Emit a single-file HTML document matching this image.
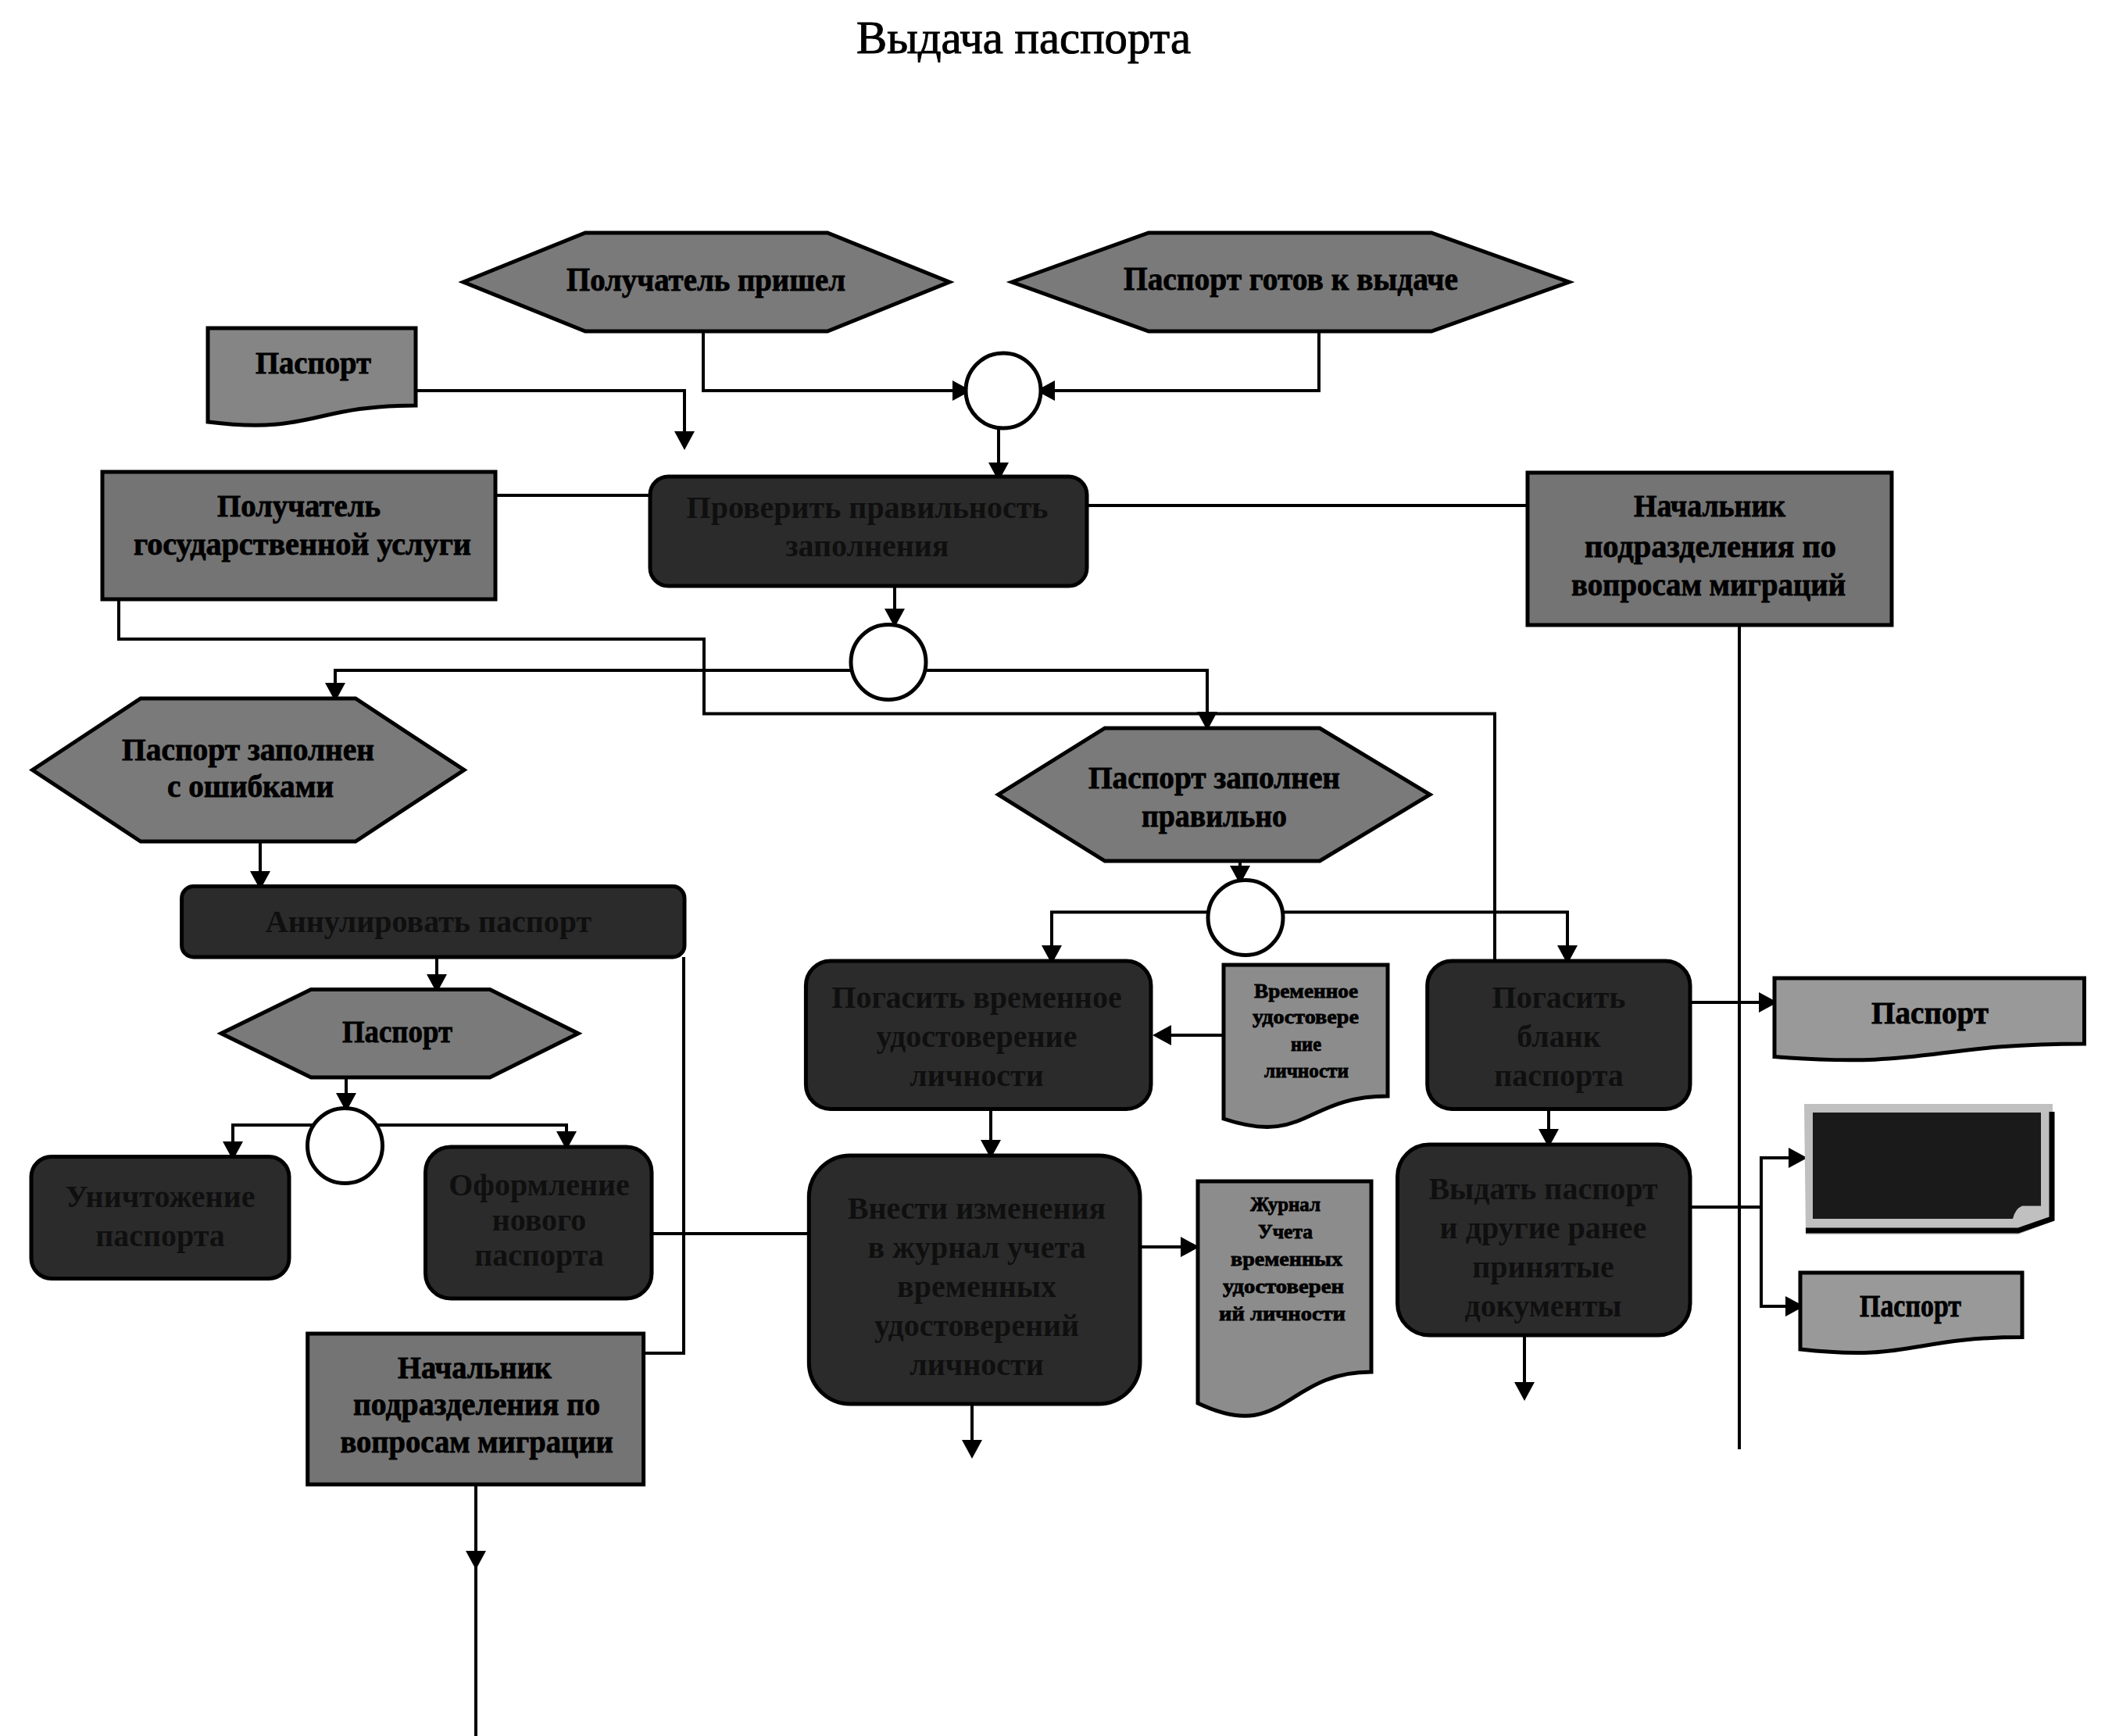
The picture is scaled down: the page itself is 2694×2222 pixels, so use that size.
<!DOCTYPE html>
<html><head><meta charset="utf-8"><style>
html,body{margin:0;padding:0;background:#fff;}
svg{display:block;}
text{font-family:"Liberation Serif",serif;}
</style></head><body>
<svg width="2694" height="2222" viewBox="0 0 2694 2222">
<rect width="2694" height="2222" fill="#fff"/>
<text x="1096" y="68" font-size="60" font-family="Liberation Serif" textLength="428" lengthAdjust="spacingAndGlyphs" fill="#000" stroke="#000" stroke-width="1">Выдача паспорта</text>
<polyline points="900,425 900,500 1234,500" fill="none" stroke="#000" stroke-width="4" stroke-linejoin="miter"/>
<polygon points="1243,500 1219,487 1219,513" fill="#000"/>
<polyline points="1688,424 1688,500 1334,500" fill="none" stroke="#000" stroke-width="4" stroke-linejoin="miter"/>
<polygon points="1326,500 1350,487 1350,513" fill="#000"/>
<polyline points="532,500 876,500 876,560" fill="none" stroke="#000" stroke-width="4" stroke-linejoin="miter"/>
<polygon points="876,576 863,552 889,552" fill="#000"/>
<polyline points="1278,547 1278,600" fill="none" stroke="#000" stroke-width="4" stroke-linejoin="miter"/>
<polygon points="1278,616 1265,592 1291,592" fill="#000"/>
<polyline points="634,634 832,634" fill="none" stroke="#000" stroke-width="4" stroke-linejoin="miter"/>
<polyline points="1391,647 1955,647" fill="none" stroke="#000" stroke-width="4" stroke-linejoin="miter"/>
<polyline points="1145,750 1145,785" fill="none" stroke="#000" stroke-width="4" stroke-linejoin="miter"/>
<polygon points="1145,803 1132,779 1158,779" fill="#000"/>
<polyline points="152,767 152,818 901,818 901,913.5 1913,913.5 1913,1230" fill="none" stroke="#000" stroke-width="4" stroke-linejoin="miter"/>
<polyline points="1088,858 429,858 429,880" fill="none" stroke="#000" stroke-width="4" stroke-linejoin="miter"/>
<polygon points="429,898 416,874 442,874" fill="#000"/>
<polyline points="1186,858 1545,858 1545,915" fill="none" stroke="#000" stroke-width="4" stroke-linejoin="miter"/>
<polygon points="1545,935 1532,911 1558,911" fill="#000"/>
<polyline points="1587,1102 1587,1115" fill="none" stroke="#000" stroke-width="4" stroke-linejoin="miter"/>
<polygon points="1587,1132 1574,1108 1600,1108" fill="#000"/>
<polyline points="1545,1167.5 1346,1167.5 1346,1215" fill="none" stroke="#000" stroke-width="4" stroke-linejoin="miter"/>
<polygon points="1346,1234 1333,1210 1359,1210" fill="#000"/>
<polyline points="1643,1167.5 2006,1167.5 2006,1215" fill="none" stroke="#000" stroke-width="4" stroke-linejoin="miter"/>
<polygon points="2006,1234 1993,1210 2019,1210" fill="#000"/>
<polyline points="2226,800 2226,1855" fill="none" stroke="#000" stroke-width="4" stroke-linejoin="miter"/>
<polyline points="333,1076 333,1120" fill="none" stroke="#000" stroke-width="4" stroke-linejoin="miter"/>
<polygon points="333,1139 320,1115 346,1115" fill="#000"/>
<polyline points="559,1225 559,1252" fill="none" stroke="#000" stroke-width="4" stroke-linejoin="miter"/>
<polygon points="559,1271 546,1247 572,1247" fill="#000"/>
<polyline points="443,1379 443,1405" fill="none" stroke="#000" stroke-width="4" stroke-linejoin="miter"/>
<polygon points="443,1423 430,1399 456,1399" fill="#000"/>
<polyline points="402,1440 298,1440 298,1466" fill="none" stroke="#000" stroke-width="4" stroke-linejoin="miter"/>
<polygon points="298,1485 285,1461 311,1461" fill="#000"/>
<polyline points="481,1440 725,1440 725,1454" fill="none" stroke="#000" stroke-width="4" stroke-linejoin="miter"/>
<polygon points="725,1472 712,1448 738,1448" fill="#000"/>
<polyline points="875,1225 875,1732 823,1732" fill="none" stroke="#000" stroke-width="4" stroke-linejoin="miter"/>
<polyline points="833,1579 1035,1579" fill="none" stroke="#000" stroke-width="4" stroke-linejoin="miter"/>
<polyline points="609,1900 609,2222" fill="none" stroke="#000" stroke-width="4" stroke-linejoin="miter"/>
<polygon points="609,2009 596,1985 622,1985" fill="#000"/>
<polyline points="1566,1325 1490,1325" fill="none" stroke="#000" stroke-width="4" stroke-linejoin="miter"/>
<polygon points="1475,1325 1499,1312 1499,1338" fill="#000"/>
<polyline points="1268,1419 1268,1465" fill="none" stroke="#000" stroke-width="4" stroke-linejoin="miter"/>
<polygon points="1268,1483 1255,1459 1281,1459" fill="#000"/>
<polyline points="1459,1596 1515,1596" fill="none" stroke="#000" stroke-width="4" stroke-linejoin="miter"/>
<polygon points="1535,1596 1511,1583 1511,1609" fill="#000"/>
<polyline points="1244,1797 1244,1850" fill="none" stroke="#000" stroke-width="4" stroke-linejoin="miter"/>
<polygon points="1244,1867 1231,1843 1257,1843" fill="#000"/>
<polyline points="1982,1419 1982,1450" fill="none" stroke="#000" stroke-width="4" stroke-linejoin="miter"/>
<polygon points="1982,1469 1969,1445 1995,1445" fill="#000"/>
<polyline points="1951,1709 1951,1780" fill="none" stroke="#000" stroke-width="4" stroke-linejoin="miter"/>
<polygon points="1951,1793 1938,1769 1964,1769" fill="#000"/>
<polyline points="2163,1283 2255,1283" fill="none" stroke="#000" stroke-width="4" stroke-linejoin="miter"/>
<polygon points="2275,1283 2251,1270 2251,1296" fill="#000"/>
<polyline points="2163,1545 2254,1545" fill="none" stroke="#000" stroke-width="4" stroke-linejoin="miter"/>
<polyline points="2310,1482 2254,1482 2254,1672 2290,1672" fill="none" stroke="#000" stroke-width="4" stroke-linejoin="miter"/>
<polygon points="2313,1482 2289,1469 2289,1495" fill="#000"/>
<polygon points="2309,1672 2285,1659 2285,1685" fill="#000"/>
<polygon points="593,361.0 749,298 1059,298 1215,361.0 1059,424 749,424" fill="#7a7a7a" stroke="#000" stroke-width="5" stroke-linejoin="miter"/>
<text x="903.5" y="372" text-anchor="middle" font-size="42" font-weight="bold" fill="#000" stroke="#000" stroke-width="0.8" textLength="357" lengthAdjust="spacingAndGlyphs">Получатель пришел</text>
<polygon points="1295,361.0 1470,298 1832,298 2008,361.0 1832,424 1470,424" fill="#7a7a7a" stroke="#000" stroke-width="5" stroke-linejoin="miter"/>
<text x="1652.0" y="371" text-anchor="middle" font-size="42" font-weight="bold" fill="#000" stroke="#000" stroke-width="0.8" textLength="428" lengthAdjust="spacingAndGlyphs">Паспорт готов к выдаче</text>
<path d="M266,420 H532 V519 C399.0,519 399.0,556.7 266,540 Z" fill="#858585" stroke="#000" stroke-width="5" stroke-linejoin="miter"/>
<text x="401.0" y="478" text-anchor="middle" font-size="40" font-weight="bold" fill="#000" stroke="#000" stroke-width="0.8" textLength="148" lengthAdjust="spacingAndGlyphs">Паспорт</text>
<circle cx="1284" cy="500" r="48" fill="#fff" stroke="#000" stroke-width="5"/>
<rect x="131" y="604" width="503" height="163" fill="#747474" stroke="#000" stroke-width="5"/>
<text x="382.5" y="661" text-anchor="middle" font-size="40" font-weight="bold" fill="#000" stroke="#000" stroke-width="0.8" textLength="209" lengthAdjust="spacingAndGlyphs">Получатель</text>
<text x="387.0" y="710" text-anchor="middle" font-size="40" font-weight="bold" fill="#000" stroke="#000" stroke-width="0.8" textLength="432" lengthAdjust="spacingAndGlyphs">государственной услуги</text>
<rect x="832" y="610" width="559" height="140" rx="23.333333333333332" ry="23.333333333333332" fill="#2b2b2b" stroke="#000" stroke-width="5"/>
<text x="1110.0" y="663" text-anchor="middle" font-size="40" font-weight="bold" fill="#0f0f0f">Проверить правильность</text>
<text x="1110.0" y="712" text-anchor="middle" font-size="40" font-weight="bold" fill="#0f0f0f">заполнения</text>
<rect x="1955" y="605" width="466" height="195" fill="#747474" stroke="#000" stroke-width="5"/>
<text x="2188.0" y="661" text-anchor="middle" font-size="40" font-weight="bold" fill="#000" stroke="#000" stroke-width="0.8" textLength="194" lengthAdjust="spacingAndGlyphs">Начальник</text>
<text x="2189.0" y="713" text-anchor="middle" font-size="40" font-weight="bold" fill="#000" stroke="#000" stroke-width="0.8" textLength="322" lengthAdjust="spacingAndGlyphs">подразделения по</text>
<text x="2186.5" y="762" text-anchor="middle" font-size="40" font-weight="bold" fill="#000" stroke="#000" stroke-width="0.8" textLength="351" lengthAdjust="spacingAndGlyphs">вопросам миграций</text>
<circle cx="1137" cy="847.5" r="48" fill="#fff" stroke="#000" stroke-width="5"/>
<polygon points="41.5,985.5 180,894 455,894 594,985.5 455,1077 180,1077" fill="#7a7a7a" stroke="#000" stroke-width="5" stroke-linejoin="miter"/>
<text x="317.5" y="973" text-anchor="middle" font-size="40" font-weight="bold" fill="#000" stroke="#000" stroke-width="0.8" textLength="323" lengthAdjust="spacingAndGlyphs">Паспорт заполнен</text>
<text x="320.5" y="1020" text-anchor="middle" font-size="40" font-weight="bold" fill="#000" stroke="#000" stroke-width="0.8" textLength="213" lengthAdjust="spacingAndGlyphs">с ошибками</text>
<polygon points="1277.5,1017.0 1414,932 1689,932 1830,1017.0 1689,1102 1414,1102" fill="#7a7a7a" stroke="#000" stroke-width="5" stroke-linejoin="miter"/>
<text x="1554.0" y="1009" text-anchor="middle" font-size="40" font-weight="bold" fill="#000" stroke="#000" stroke-width="0.8" textLength="322" lengthAdjust="spacingAndGlyphs">Паспорт заполнен</text>
<text x="1554.0" y="1058" text-anchor="middle" font-size="40" font-weight="bold" fill="#000" stroke="#000" stroke-width="0.8" textLength="186" lengthAdjust="spacingAndGlyphs">правильно</text>
<circle cx="1594" cy="1174.5" r="48" fill="#fff" stroke="#000" stroke-width="5"/>
<rect x="232.6" y="1134.5" width="643.4" height="90.5" rx="15.083333333333334" ry="15.083333333333334" fill="#2b2b2b" stroke="#000" stroke-width="5"/>
<text x="548.5" y="1193" text-anchor="middle" font-size="40" font-weight="bold" fill="#0f0f0f">Аннулировать паспорт</text>
<polygon points="283,1322.75 398,1266.5 627,1266.5 740,1322.75 627,1379 398,1379" fill="#7a7a7a" stroke="#000" stroke-width="5" stroke-linejoin="miter"/>
<text x="508.5" y="1334" text-anchor="middle" font-size="40" font-weight="bold" fill="#000" stroke="#000" stroke-width="0.8" textLength="141" lengthAdjust="spacingAndGlyphs">Паспорт</text>
<circle cx="441.5" cy="1466.5" r="48" fill="#fff" stroke="#000" stroke-width="5"/>
<rect x="40" y="1480.5" width="330" height="156.0" rx="26.0" ry="26.0" fill="#2b2b2b" stroke="#000" stroke-width="5"/>
<text x="205.0" y="1545" text-anchor="middle" font-size="40" font-weight="bold" fill="#0f0f0f">Уничтожение</text>
<text x="205.0" y="1595" text-anchor="middle" font-size="40" font-weight="bold" fill="#0f0f0f">паспорта</text>
<rect x="544.5" y="1468" width="289.5" height="194" rx="32.333333333333336" ry="32.333333333333336" fill="#2b2b2b" stroke="#000" stroke-width="5"/>
<text x="690.0" y="1530" text-anchor="middle" font-size="40" font-weight="bold" fill="#0f0f0f">Оформление</text>
<text x="690.0" y="1575" text-anchor="middle" font-size="40" font-weight="bold" fill="#0f0f0f">нового</text>
<text x="690.0" y="1620" text-anchor="middle" font-size="40" font-weight="bold" fill="#0f0f0f">паспорта</text>
<rect x="393.7" y="1707" width="429.90000000000003" height="193" fill="#747474" stroke="#000" stroke-width="5"/>
<text x="607.5" y="1764" text-anchor="middle" font-size="40" font-weight="bold" fill="#000" stroke="#000" stroke-width="0.8" textLength="197" lengthAdjust="spacingAndGlyphs">Начальник</text>
<text x="610.0" y="1811" text-anchor="middle" font-size="40" font-weight="bold" fill="#000" stroke="#000" stroke-width="0.8" textLength="316" lengthAdjust="spacingAndGlyphs">подразделения по</text>
<text x="610.1" y="1859" text-anchor="middle" font-size="40" font-weight="bold" fill="#000" stroke="#000" stroke-width="0.8" textLength="349.20000000000005" lengthAdjust="spacingAndGlyphs">вопросам миграции</text>
<rect x="1031.4" y="1230" width="441.5999999999999" height="189.5" rx="31.583333333333332" ry="31.583333333333332" fill="#2b2b2b" stroke="#000" stroke-width="5"/>
<text x="1250.0" y="1290" text-anchor="middle" font-size="40" font-weight="bold" fill="#0f0f0f">Погасить временное</text>
<text x="1250.0" y="1340" text-anchor="middle" font-size="40" font-weight="bold" fill="#0f0f0f">удостоверение</text>
<text x="1250.0" y="1390" text-anchor="middle" font-size="40" font-weight="bold" fill="#0f0f0f">личности</text>
<path d="M1566,1235 H1776 V1403 C1671.0,1403 1671.0,1467.0 1566,1432 Z" fill="#8c8c8c" stroke="#000" stroke-width="5" stroke-linejoin="miter"/>
<text x="1671.5" y="1277" text-anchor="middle" font-size="26" font-weight="bold" fill="#000" stroke="#000" stroke-width="0.8" textLength="133" lengthAdjust="spacingAndGlyphs">Временное</text>
<text x="1671.0" y="1310" text-anchor="middle" font-size="26" font-weight="bold" fill="#000" stroke="#000" stroke-width="0.8" textLength="136" lengthAdjust="spacingAndGlyphs">удостовере</text>
<text x="1671.5" y="1345" text-anchor="middle" font-size="26" font-weight="bold" fill="#000" stroke="#000" stroke-width="0.8" textLength="39" lengthAdjust="spacingAndGlyphs">ние</text>
<text x="1672.0" y="1379" text-anchor="middle" font-size="26" font-weight="bold" fill="#000" stroke="#000" stroke-width="0.8" textLength="108" lengthAdjust="spacingAndGlyphs">личности</text>
<rect x="1035.3" y="1479" width="423.70000000000005" height="318" rx="53.0" ry="53.0" fill="#2b2b2b" stroke="#000" stroke-width="5"/>
<text x="1250.0" y="1560" text-anchor="middle" font-size="40" font-weight="bold" fill="#0f0f0f">Внести изменения</text>
<text x="1250.0" y="1610" text-anchor="middle" font-size="40" font-weight="bold" fill="#0f0f0f">в журнал учета</text>
<text x="1250.0" y="1660" text-anchor="middle" font-size="40" font-weight="bold" fill="#0f0f0f">временных</text>
<text x="1250.0" y="1710" text-anchor="middle" font-size="40" font-weight="bold" fill="#0f0f0f">удостоверений</text>
<text x="1250.0" y="1760" text-anchor="middle" font-size="40" font-weight="bold" fill="#0f0f0f">личности</text>
<path d="M1533,1512 H1755 V1756 C1644.0,1756 1644.0,1848.9 1533,1796 Z" fill="#8c8c8c" stroke="#000" stroke-width="5" stroke-linejoin="miter"/>
<text x="1645.0" y="1550" text-anchor="middle" font-size="26" font-weight="bold" fill="#000" stroke="#000" stroke-width="0.8" textLength="90" lengthAdjust="spacingAndGlyphs">Журнал</text>
<text x="1645.0" y="1585" text-anchor="middle" font-size="26" font-weight="bold" fill="#000" stroke="#000" stroke-width="0.8" textLength="70" lengthAdjust="spacingAndGlyphs">Учета</text>
<text x="1646.5" y="1620" text-anchor="middle" font-size="26" font-weight="bold" fill="#000" stroke="#000" stroke-width="0.8" textLength="143" lengthAdjust="spacingAndGlyphs">временных</text>
<text x="1642.5" y="1655" text-anchor="middle" font-size="26" font-weight="bold" fill="#000" stroke="#000" stroke-width="0.8" textLength="155" lengthAdjust="spacingAndGlyphs">удостоверен</text>
<text x="1641.0" y="1690" text-anchor="middle" font-size="26" font-weight="bold" fill="#000" stroke="#000" stroke-width="0.8" textLength="162" lengthAdjust="spacingAndGlyphs">ий личности</text>
<rect x="1826.7" y="1230" width="336.29999999999995" height="189.5" rx="31.583333333333332" ry="31.583333333333332" fill="#2b2b2b" stroke="#000" stroke-width="5"/>
<text x="1995.0" y="1290" text-anchor="middle" font-size="40" font-weight="bold" fill="#0f0f0f">Погасить</text>
<text x="1995.0" y="1340" text-anchor="middle" font-size="40" font-weight="bold" fill="#0f0f0f">бланк</text>
<text x="1995.0" y="1390" text-anchor="middle" font-size="40" font-weight="bold" fill="#0f0f0f">паспорта</text>
<rect x="1788.5" y="1465" width="374.5" height="244" rx="40.666666666666664" ry="40.666666666666664" fill="#2b2b2b" stroke="#000" stroke-width="5"/>
<text x="1975.0" y="1535" text-anchor="middle" font-size="40" font-weight="bold" fill="#0f0f0f">Выдать паспорт</text>
<text x="1975.0" y="1585" text-anchor="middle" font-size="40" font-weight="bold" fill="#0f0f0f">и другие ранее</text>
<text x="1975.0" y="1635" text-anchor="middle" font-size="40" font-weight="bold" fill="#0f0f0f">принятые</text>
<text x="1975.0" y="1685" text-anchor="middle" font-size="40" font-weight="bold" fill="#0f0f0f">документы</text>
<path d="M2271,1252 H2667.5 V1336 C2469.25,1336 2469.25,1368.0 2271,1352.6 Z" fill="#999999" stroke="#000" stroke-width="5" stroke-linejoin="miter"/>
<text x="2470.0" y="1310" text-anchor="middle" font-size="40" font-weight="bold" fill="#000" stroke="#000" stroke-width="0.8" textLength="150" lengthAdjust="spacingAndGlyphs">Паспорт</text>
<path d="M2304,1629 H2588 V1711.5 C2446.0,1711.5 2446.0,1742.9 2304,1727 Z" fill="#999999" stroke="#000" stroke-width="5" stroke-linejoin="miter"/>
<text x="2445.0" y="1685" text-anchor="middle" font-size="40" font-weight="bold" fill="#000" stroke="#000" stroke-width="0.8" textLength="130" lengthAdjust="spacingAndGlyphs">Паспорт</text>
<path d="M2309,1413 H2627 V1563 L2583,1580 H2311 Z" fill="#c0c0c0"/>
<path d="M2311,1575 H2583 L2626,1560 V1423" fill="none" stroke="#000" stroke-width="7"/>
<path d="M2320,1424 H2612 V1543.5 H2588 Q2579,1547 2576,1560 H2320 Z" fill="#1a1a1a"/>
</svg></body></html>
